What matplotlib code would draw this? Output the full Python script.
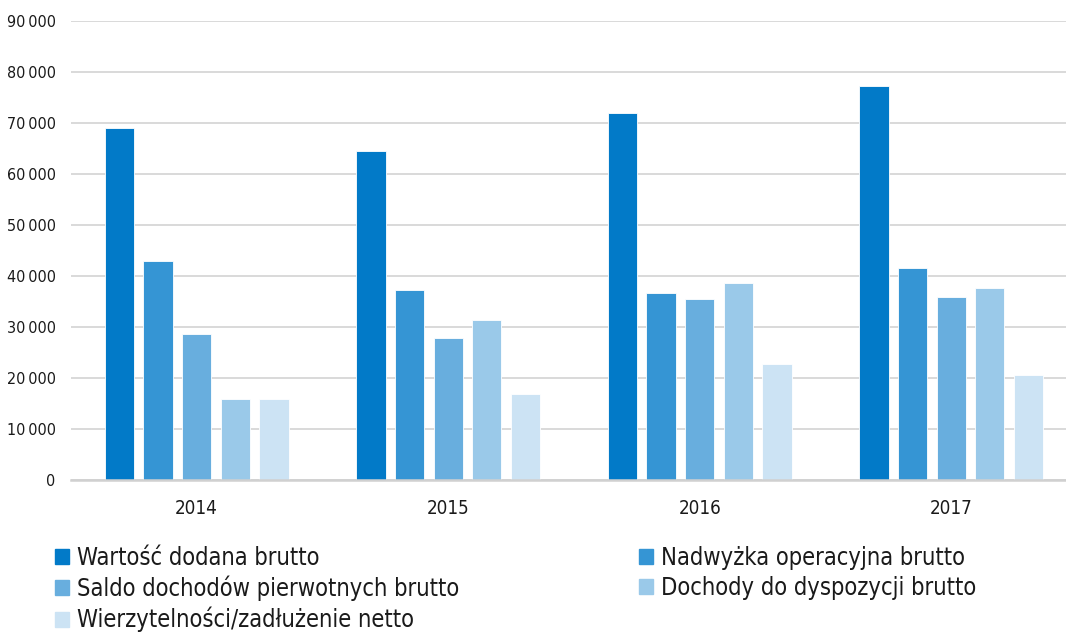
import numpy as np
import matplotlib.pyplot as plt
from matplotlib.patches import Patch
from matplotlib.ticker import FuncFormatter

lata = ['2014', '2015', '2016', '2017']
serie = ['Wartość dodana brutto',
         'Nadwyżka operacyjna brutto',
         'Saldo dochodów pierwotnych brutto',
         'Dochody do dyspozycji brutto',
         'Wierzytelności/zadłużenie netto']
wartosc_dodana = [69000, 64600, 72000, 77300]
nadwyzka = [43000, 37200, 36600, 41600]
saldo = [28600, 27800, 35500, 35800]
dochody = [15900, 31300, 38600, 37700]
wierzytelnosci = [15900, 16900, 22700, 20500]
dane = [wartosc_dodana, nadwyzka, saldo, dochody, wierzytelnosci]
kolory = ['#027ac8', '#3595d4', '#68aede', '#9ac9e9', '#cce3f4']

plt.rcParams['font.family'] = ['DejaVu Sans Condensed', 'DejaVu Sans']
plt.rcParams['font.stretch'] = 'condensed'

fig = plt.figure(figsize=(10.66, 6.32), dpi=100)
ax = fig.add_axes([0.0665, 0.2405, 0.9438, 0.7263])

x = np.arange(len(lata))
krok = 0.1535
szer = 0.1165
for i, (d, k) in enumerate(zip(dane, kolory)):
    ax.bar(x + (i - 2) * krok, d, szer, color=k, edgecolor='white',
           linewidth=0.6, label=serie[i], zorder=3)

ax.set_xlim(-0.5, 3.5)
ax.set_ylim(0, 90000)
ax.set_yticks(np.arange(0, 90001, 10000))
ax.yaxis.set_major_formatter(FuncFormatter(lambda v, p: f'{int(v):,}'.replace(',', '\u2009')))
ax.set_xticks(x)
ax.set_xticklabels(lata)
ax.grid(axis='y', color='#d9d9d9', linewidth=1.4, zorder=0)
for s in ['top', 'right', 'left']:
    ax.spines[s].set_visible(False)
ax.spines['bottom'].set_color('#d0d0d0')
ax.spines['bottom'].set_linewidth(1.8)
ax.spines['bottom'].set_zorder(4)
ax.tick_params(axis='both', length=0, labelcolor='#1a1a1a')
ax.tick_params(axis='y', pad=11, labelsize=11.5)
ax.tick_params(axis='x', pad=14, labelsize=13.5)

uchwyty = [Patch(color=k) for k in kolory]
wsp = dict(loc='upper left', frameon=False, fontsize=17, handlelength=0.6,
           handleheight=0.6, handletextpad=0.33, labelspacing=0.24,
           borderaxespad=0, borderpad=0, labelcolor='#1a1a1a')
fig.legend([uchwyty[0], uchwyty[2], uchwyty[4]], [serie[0], serie[2], serie[4]],
           bbox_to_anchor=(0.0516, 0.136), **wsp)
fig.legend([uchwyty[1], uchwyty[3]], [serie[1], serie[3]],
           bbox_to_anchor=(0.5994, 0.136), **wsp)

fig.savefig('out.png', dpi=100)
